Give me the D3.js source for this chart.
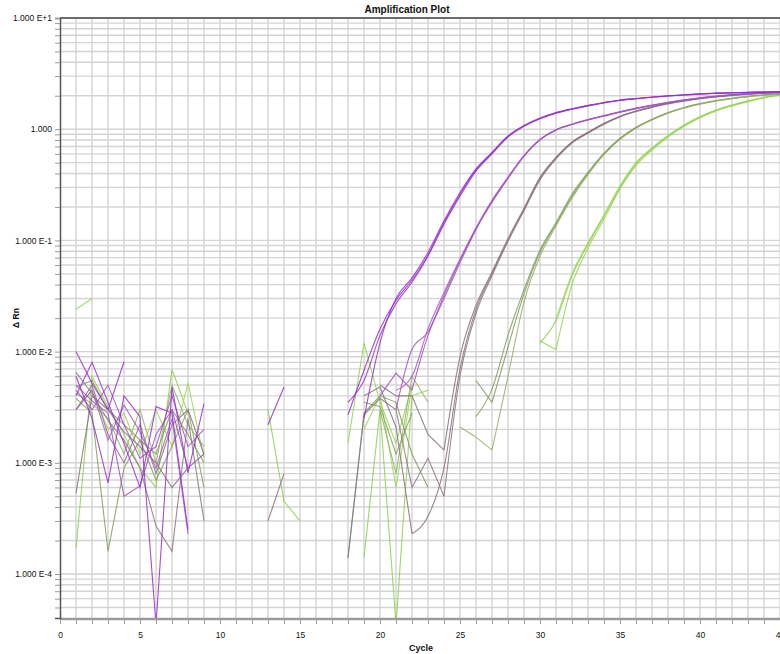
<!DOCTYPE html>
<html>
<head>
<script src="https://cdn.jsdelivr.net/npm/d3@7"></script>
<style>
body { margin: 0; background: #fff; }
text { font-family: Arial, "Liberation Sans", sans-serif; fill: #111; }
</style>
</head>
<body>
<script>
var _ = null;

// cycles 1..45
var cycles = d3.range(1, 46);
var xLabels = [0, 5, 10, 15, 20, 25, 30, 35, 40, 45];

// delta Rn per well, one value per cycle (null = not plotted / negative)
//            1-9 | 10-17 | 18-27 | 28-36 | 37-45
var A1 = [.0100,.0052,.0030,.0081,_,_,_,_,_,
  _,_,_,_,_,_,_,_,
  .0027,.0068,.016,.029,.044,.074,.145,.26,.43,.61,
  .86,1.07,1.25,1.40,1.52,1.63,1.73,1.82,1.88,
  1.94,1.99,2.03,2.07,2.10,2.12,2.14,2.16,2.17];
var A2 = [.0040,.0080,.0035,.0015,.0006,.0032,.0028,.00025,_,
  _,_,_,_,_,_,_,_,
  .0035,.0055,.014,.027,.042,.072,.140,.25,.42,.60,
  .85,1.06,1.24,1.39,1.51,1.62,1.72,1.81,1.88,
  1.94,1.99,2.03,2.07,2.10,2.13,2.15,2.16,2.18];
var A3 = [.0060,.0025,.00066,.0040,.0026,.000035,.0048,.00081,.0034,
  _,_,_,.0022,.0048,_,_,_,
  _,.0025,.012,.030,.046,.078,.150,.27,.44,.62,
  .87,1.08,1.26,1.41,1.53,1.64,1.74,1.83,1.89,
  1.95,2.00,2.04,2.08,2.11,2.13,2.15,2.16,2.18];
var B1 = [.0045,.0030,.0050,.0022,.0011,.0014,.0040,.0014,.0020,
  _,_,_,_,_,_,_,_,
  _,_,.0040,.0064,.0045,.014,.030,.063,.125,.22,
  .36,.57,.80,.98,1.10,1.21,1.31,1.42,1.53,
  1.63,1.73,1.82,1.90,1.97,2.03,2.08,2.12,2.15];
var B2 = [.0050,.0036,.0028,.00050,.00062,.0018,.0030,.0009,.0012,
  _,_,_,_,_,_,_,_,
  _,_,_,.0030,.0105,.015,.032,.066,.128,.225,
  .37,.58,.81,.99,1.11,1.22,1.32,1.43,1.54,
  1.64,1.74,1.83,1.91,1.98,2.04,2.09,2.13,2.16];
var B3 = [.0030,.0045,.0016,.0033,.0019,.0009,.0025,.00023,_,
  _,_,_,_,_,_,_,_,
  _,_,_,.0045,.0060,.016,.034,.068,.130,.23,
  .37,.58,.81,.99,1.11,1.22,1.33,1.44,1.55,
  1.65,1.75,1.84,1.92,1.99,2.05,2.10,2.14,2.17];
var C1 = [.0030,.0050,.0018,.0010,.0022,.0008,.0022,.0030,.0012,
  _,_,_,.0003,.0008,_,_,_,
  _,.0040,.0048,.0021,.00023,.00033,.0009,.0070,.024,.050,
  .100,.19,.36,.55,.76,.93,1.12,1.30,1.45,
  1.58,1.70,1.80,1.89,1.96,2.02,2.07,2.11,2.14];
var C2 = [.0065,.0042,.0024,.0016,.0009,.00027,.00016,.0025,.00030,
  _,_,_,_,_,_,_,_,
  .00014,.0027,.0038,.0030,.0006,.0011,.0005,.0060,.022,.048,
  .098,.185,.35,.54,.75,.92,1.11,1.29,1.44,
  1.57,1.69,1.79,1.88,1.95,2.01,2.06,2.10,2.13];
var C3 = [.00053,.0040,.0030,.0019,.0014,.0010,.0006,.0009,_,
  _,_,_,_,_,_,_,_,
  _,_,.0050,.0040,.0040,.0018,.0013,.0090,.026,.052,
  .104,.195,.37,.56,.77,.94,1.13,1.31,1.46,
  1.59,1.71,1.81,1.90,1.97,2.03,2.08,2.12,2.15];
var D1 = [.0048,.0055,.0030,.0022,.0016,.0012,.0030,.0018,.0010,
  _,_,_,_,_,_,_,_,
  .00014,.0028,.0040,.0035,.0012,.0006,_,_,.0055,.0035,
  .011,.033,.078,.14,.25,.40,.60,.82,1.03,
  1.22,1.40,1.56,1.69,1.80,1.89,1.97,2.03,2.08];
var D2 = [.0038,.0028,.00016,.0009,.0016,.0007,.0014,.0030,.0006,
  _,_,_,_,_,_,_,_,
  _,.0035,.0032,.0012,.0028,_,_,_,.0026,.0046,
  .014,.036,.082,.145,.26,.41,.61,.83,1.04,
  1.23,1.41,1.57,1.70,1.81,1.90,1.98,2.04,2.09];
var D3 = [.0042,.0034,.0025,.0012,.0030,.0010,.0050,.0022,.0014,
  _,_,_,_,_,_,_,_,
  _,_,.0030,.0008,.0060,.0035,_,.0021,.0017,.0013,
  .0060,.028,.072,.135,.24,.39,.59,.81,1.02,
  1.21,1.39,1.55,1.68,1.79,1.88,1.96,2.02,2.07];
var E1 = [.024,.030,_,_,_,_,_,_,_,
  _,_,_,_,_,_,_,_,
  .0015,.012,.0035,.0015,.0050,_,_,_,_,_,
  _,_,.0125,.0104,.040,.085,.155,.29,.47,
  .65,.85,1.06,1.27,1.46,1.62,1.77,1.91,2.02];
var E2 = [.00017,.0060,.0032,.0018,.0009,.0006,.0069,.0028,_,
  _,_,_,.0030,.00045,.00030,_,_,
  _,.00014,.0030,.000035,.0040,.0045,_,_,_,_,
  _,_,.0120,.0190,.048,.092,.165,.30,.49,
  .67,.87,1.08,1.29,1.48,1.64,1.79,1.93,2.04];
var E3 = [.0030,.0045,.0020,.0028,.0012,.0030,.0014,.0052,.0011,
  _,_,_,_,_,_,_,_,
  _,.0020,.0040,.0006,.0050,_,_,_,_,_,
  _,_,_,.0195,.050,.095,.17,.31,.50,
  .68,.88,1.09,1.30,1.49,1.65,1.80,1.94,2.05];

var wells = [E1, E2, E3, D1, D2, D3, C1, C2, C3, B1, B2, B3, A1, A2, A3];
var wellColors = ["#92d64c", "#8ccf4a", "#96d855",
                  "#7f9a58", "#849e5c", "#95b066",
                  "#8a6f80", "#8e7484", "#86707c",
                  "#a04fc2", "#9c52bc", "#a656c6",
                  "#962ccf", "#9a30d0", "#9430c8"];

var W = 780, H = 654;
var plotL = 60, plotR = 780, plotT = 18, plotB = 618;

var svg = d3.select("body").append("svg")
    .attr("width", W)
    .attr("height", H);

var x = d3.scaleLinear().domain([0, 45]).range([plotL, plotR]);
var y = d3.scaleLog().domain([Math.pow(10, 1 - (plotB - plotT) / 111.2), 10]).range([plotB, plotT]);

// grid
var grid = svg.append("g").attr("stroke", "#d4d4d4").attr("stroke-width", 1.4);
grid.selectAll("line.v")
    .data(cycles)
    .enter().append("line")
    .attr("x1", d => x(d)).attr("x2", d => x(d))
    .attr("y1", plotT).attr("y2", plotB);
grid.selectAll("line.h")
    .data(y.ticks())
    .enter().append("line")
    .attr("x1", plotL).attr("x2", plotR)
    .attr("y1", d => y(d)).attr("y2", d => y(d));

// curves: noisy parts straight, the final steady rise smoothed
svg.append("clipPath").attr("id", "clip")
  .append("rect").attr("x", plotL).attr("y", plotT).attr("width", plotR - plotL).attr("height", plotB - plotT);

var noiseLine = d3.line()
    .defined(d => d[1] != null)
    .x(d => x(d[0]))
    .y(d => y(d[1]));
var riseLine = d3.line()
    .curve(d3.curveMonotoneX)
    .x(d => x(d[0]))
    .y(d => y(d[1]));

function splitWell(vals) {
  var pts = vals.map((v, i) => [cycles[i], v]);
  var start = pts.length - 1;
  while (start > 0 && pts[start - 1][1] != null) start--;
  // last dip inside the final segment: smoothing starts there
  var k = start;
  for (var i = start + 1; i < pts.length; i++) {
    if (pts[i][1] <= pts[i - 1][1]) k = i;
  }
  var early = pts.map((p, i) => i <= k ? p : [p[0], null]);
  return { early: early, rise: pts.slice(k) };
}

var wellG = svg.append("g").attr("clip-path", "url(#clip)")
  .selectAll("g")
  .data(wells.map(splitWell))
  .enter().append("g")
    .attr("fill", "none")
    .attr("stroke", (d, i) => wellColors[i])
    .attr("stroke-width", 1.1)
    .attr("stroke-opacity", 0.85);
wellG.append("path").attr("d", d => noiseLine(d.early));
wellG.append("path").attr("d", d => riseLine(d.rise));

// frame
svg.append("line").attr("x1", plotL).attr("x2", W).attr("y1", plotT).attr("y2", plotT)
    .attr("stroke", "#444").attr("stroke-width", 1.5);
svg.append("line").attr("x1", plotL).attr("x2", plotR).attr("y1", plotB + 1).attr("y2", plotB + 1)
    .attr("stroke", "#9a9a9a").attr("stroke-width", 2.5);

// y axis
function decadeLabel(d) {
  var e = Math.round(Math.log10(d));
  if (Math.abs(d - Math.pow(10, e)) / d > 1e-6) return "";
  return e === 0 ? "1.000" : "1.000 E" + (e > 0 ? "+" : "") + e;
}
var yAxis = svg.append("g")
    .attr("transform", "translate(" + plotL + ",0)")
    .call(d3.axisLeft(y).tickValues(y.ticks()).tickFormat(decadeLabel).tickSize(5).tickPadding(3));
yAxis.select(".domain").attr("stroke", "#555").attr("stroke-width", 1.5);
yAxis.selectAll(".tick line").attr("stroke", "#999");
yAxis.selectAll("text").attr("font-size", "8.5px").attr("fill", "#222");

// x axis
var xAxis = svg.append("g")
    .attr("transform", "translate(0," + (plotB + 2) + ")")
    .call(d3.axisBottom(x).tickValues(d3.range(0, 46)).tickSize(4).tickPadding(8)
      .tickFormat(d => xLabels.indexOf(d) >= 0 ? d : ""));
xAxis.select(".domain").remove();
xAxis.selectAll(".tick line").attr("stroke", "#999");
xAxis.selectAll("text").attr("font-size", "8.5px").attr("fill", "#222");

// titles
svg.append("text").attr("x", 407).attr("y", 13).attr("text-anchor", "middle")
    .attr("font-size", "10px").attr("font-weight", "bold").text("Amplification Plot");
svg.append("text").attr("x", 421).attr("y", 651).attr("text-anchor", "middle")
    .attr("font-size", "9px").attr("font-weight", "bold").text("Cycle");
svg.append("text").attr("transform", "translate(19,318) rotate(-90)").attr("text-anchor", "middle")
    .attr("font-size", "8.5px").attr("font-weight", "bold").text("Δ Rn");
</script>
</body>
</html>
